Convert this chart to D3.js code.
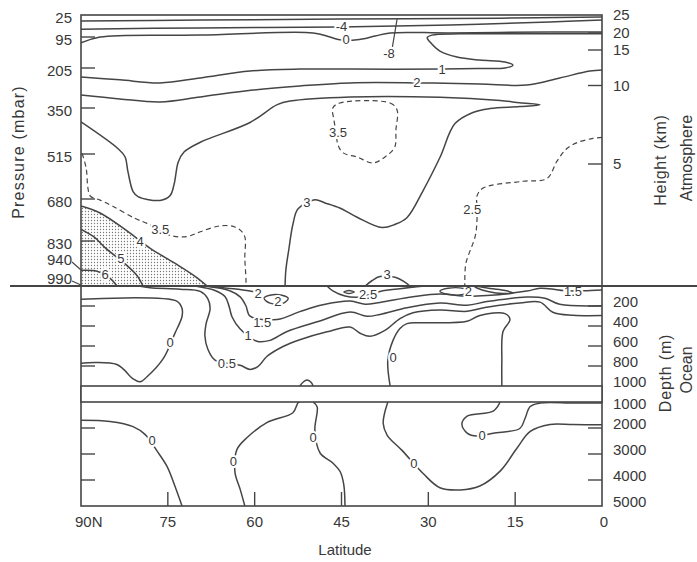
<!DOCTYPE html>
<html>
<head>
<meta charset="utf-8">
<script src="https://cdn.jsdelivr.net/npm/d3@7"></script>
<style>
  body { margin: 0; background: #fff; }
  svg { display: block; }
  text { font-family: "Liberation Sans", Arial, Helvetica, sans-serif; fill: #383838; }
</style>
</head>
<body>
<svg id="chart" width="697" height="562"></svg>
<script>
// ---------------- axis values ----------------
const latTicks = [90, 75, 60, 45, 30, 15, 0];
const pressureLevels = [25, 95, 205, 350, 515, 680, 830, 940, 990];
const pressureKnots = [25, 95, 205, 350, 515, 680, 830, 940, 990, 1000];
const heightTicks = [25, 20, 15, 10, 5];
const heightKnots = [25, 20, 15, 10, 5, 0];
const upperDepthTicks = [200, 400, 600, 800, 1000];
const lowerDepthTicks = [1000, 2000, 3000, 4000, 5000];

// ---------------- atmosphere isolines: [latitude, pressure mbar] ----------------
const atmM8 = [[90,44],[69.4,41],[45.3,38],[17.6,35],[0,31]];
const atmM4 = [[90,70],[69.4,66],[45.3,63],[26.3,57],[9,47],[0,41]];
const atm0 = [[90,116],[86.7,95],[69.4,89],[49.9,82],[47,95],[45.3,105],[42.3,105],[39.2,92],[36.6,82],[26.3,82],[9,79],[0,79]];
const atm1 = [[90,238],[83.3,248],[76.35,259],[69.4,241],[60.8,216],[52.2,209],[43.5,209],[27.6,209],[21.1,207],[16.75,205],[15.4,195],[16.75,184],[21.1,177],[25.05,166],[28,145],[29.7,113],[30.2,97],[29.4,89],[24.5,85],[14.2,85],[0,85]];
const atm2 = [[90,303],[83.3,317],[76.35,328],[69.4,310],[60.3,285],[52.2,270],[43.5,259],[32,259],[21.1,263],[13,267],[7.3,241],[2.1,216],[0,212]];
const atm3 = [[90,400],[83.6,496],[82.4,525],[81.9,579],[81,653],[80.15,671],[76.35,685],[74.6,667],[73.9,624],[73.2,544],[72.2,508],[69.4,473],[60.8,402],[56.1,338],[53.9,325],[43.5,310],[28,311],[17.6,323],[14.2,331],[10.7,338],[14.2,345],[19.35,352],[22.3,366],[25.4,406],[28,528],[30.9,649],[33.7,747],[35.8,771],[38,782],[42.3,745],[45.3,712],[47.85,694],[49.6,683],[52.5,715],[53.4,771],[54.1,866],[54.6,948],[54.75,1000]];
const atm3bump = [[40.9,1000],[39.7,985],[38.35,972],[35.6,975],[34,991],[33.2,1000]];
const atm35loop = [[45.3,332],[36.6,332],[35.4,357],[35.6,429],[35.8,490],[37.5,526],[39.6,548],[42.3,526],[44.7,511],[45.6,483],[45.95,436],[46.3,393],[46.5,350]];
const atm35west = [[89.8,513],[89.1,568],[88.8,640],[88.4,669],[86.7,684],[84.5,706],[80.7,749],[78.6,767],[74.6,810],[71.7,814],[69.4,797],[66,776],[63.4,780],[61.8,809],[61.7,906],[61.5,980],[61.5,1000]];
const atm25east = [[0,455],[1.55,459],[4.15,473],[6.05,495],[7.8,542],[9.5,605],[13.65,615],[20.55,640],[21.6,669],[21.6,705],[21.6,759],[21.9,813],[23.5,924],[23.7,988],[23.7,1000]];
const atm4 = [[90,705],[86.7,730],[82.05,794],[78.1,860],[73.8,924],[70.3,971],[68.2,1000]];
const atm5 = [[90,789],[87.6,818],[85.85,858],[82.05,934],[80.3,969],[79.3,1000]];
const atm6 = [[90,951],[87.2,954],[85,977],[83.8,1000]];
const atmLeader = [[35.4,38],[36.2,130]];

// contour labels: [text, latitude, pressure]
const atmLabels = [
  ["-4",45,63],["-8",36.8,152],["0",44.2,105],["1",27.6,209],["2",32,259],
  ["3.5",45.6,436],["3",51,694],["3.5",76.3,787],["2.5",22.4,717],
  ["4",79.8,832],["5",83.1,904],["6",85.85,965],["3",37.1,966]
];

// ---------------- upper ocean isolines: [latitude, depth m], 0-1000 m ----------------
const ocn0west = [[90,133],[73.4,153],[72.55,225],[72.55,305],[73.8,476],[75.8,727],[78.6,908],[79.8,958],[81,928],[83.8,785],[90,772]];
const ocn05 = [[80,0],[78.1,18],[72.9,32],[69.4,54],[68.1,126],[67.7,227],[68.4,378],[68.6,498],[68.1,630],[66.85,741],[62.5,793],[60.8,834],[59.4,804],[57.9,705],[55.1,605],[52.2,537],[47.5,458],[43.5,411],[41.8,472],[40.1,503],[37.5,444],[34.9,326],[32.65,267],[28,240],[23.3,253],[20.2,215],[14.2,169],[10.7,161],[8.5,262],[5,293],[0,296]];
const ocn1 = [[70.3,0],[66.85,45],[65.1,107],[64.4,208],[63.9,310],[62.5,431],[59.6,553],[57.35,544],[54.4,455],[49.2,358],[43.5,261],[40.6,303],[38.35,284],[33.7,217],[28,170],[23.3,193],[19.9,156],[13,110],[9.85,122],[7.3,183],[0,198]];
const ocn15 = [[68.6,0],[64.3,47],[62.5,109],[61.5,200],[60.8,301],[56.1,334],[52.2,256],[48.2,188],[43.5,151],[40.9,183],[38.35,164],[32.65,108],[28,81],[23.3,104],[19.9,96],[13,51],[10.7,23],[8.1,35],[6.7,46],[3.3,48],[0,40]];
const ocn2 = [[68.6,0],[63.7,28],[60.8,50],[59.9,60]];
const ocn2loop = [[58.4,122],[57.35,92],[55.3,93],[54.2,124],[55.1,173],[57.35,172]];
const ocn25lens = [[47.5,0],[46.5,49],[44.4,100],[42.1,112],[38.35,54],[34.9,27],[30.6,0]];
const ocn25core = [[44.6,60],[43.7,45],[42.8,60],[43.7,75]];
const ocn2lens = [[28,52],[26.6,23],[24,24],[22.8,54],[24,84],[26.6,83]];
const ocnTongue = [[21.8,0],[19.35,25],[16.75,45],[15.4,68],[17.1,75],[19.7,55],[21.6,20],[22.2,0]];
const ocn0mid = [[36.6,1000],[37,744],[36.1,544],[34.9,425],[33.7,376],[30.9,368],[23.3,352],[21.1,294],[16.75,276],[15.9,336],[17.1,455],[17.3,752],[17.3,1000]];
const ocn0bump = [[52.2,1000],[51.6,960],[51,940],[50.3,960],[49.9,1000]];

const ocnLabels = [
  ["0",74.6,566],["0.5",64.8,772],["1",61.15,493],["1.5",58.7,364],["2",59.4,70],
  ["2",56,150],["2.5",40.4,85],["2",23.1,55],["1.5",5,56],["0",36.1,714]
];

// ---------------- deep ocean isolines: [latitude, depth m], 1000-5000 m ----------------
const deep0west = [[90,1700],[85,1746],[81,1946],[78.9,2256],[76.9,2873],[75.1,3492],[73.8,4225],[72.55,5000]];
const deep0a = [[61.7,5000],[62.5,4361],[63.4,3708],[63.05,2823],[61.3,2365],[57.9,1792],[53.4,1411],[52.5,1027],[52.2,1000]];
const deep0b = [[49.9,1000],[49.2,1192],[49.6,2077],[48.7,2961],[46.5,3346],[45.2,3692],[44.6,4192],[44.4,5000]];
const deep0mid = [[37,1000],[37.8,1819],[37.1,2281],[34.55,2861],[30.9,3750],[28,4296],[24.5,4381],[21.1,4231],[17.6,3658],[14.7,2781],[12.4,2131],[9,1862],[5,1869],[0,1877]];
const deep0tongue = [[17.6,1000],[18.8,1354],[23.3,1542],[24.2,1850],[23.3,2196],[21.6,2311],[18.8,2200],[14.2,2019],[13.3,1635],[12.4,1173],[10.7,1040],[5,1040],[0,1040]];

const deepLabels = [
  ["0",77.7,2490],["0",63.7,3285],["0",49.9,2380],["0",32.5,3370],["0",20.7,2290]
];

// ---------------- scales ----------------
const left = 81, right = 602;
const x = d3.scaleLinear().domain([90, 0]).range([left, right]);
const yP = d3.scaleLinear().domain(pressureKnots).range([15, 37, 68, 108, 154, 199, 241, 267, 282, 286]);
const yH = d3.scaleLinear().domain(heightKnots).range([15, 33, 50, 85.5, 164, 286]);
const yU = d3.scaleLinear().domain([0, 1000]).range([286, 386]);
const yL = d3.scaleLinear().domain([1000, 5000]).range([402, 506]);

const ink = "#454545";
const svg = d3.select("#chart");

const defs = svg.append("defs");
const pat = defs.append("pattern").attr("id", "dots")
  .attr("width", 3).attr("height", 3).attr("patternUnits", "userSpaceOnUse");
pat.append("rect").attr("width", 3).attr("height", 3).attr("fill", "#fff");
pat.append("circle").attr("cx", 1.5).attr("cy", 1.5).attr("r", 0.65).attr("fill", "#777");

function clip(id, y0, y1) {
  defs.append("clipPath").attr("id", id).append("rect")
    .attr("x", left).attr("y", y0).attr("width", right - left).attr("height", y1 - y0);
}
clip("clipAtm", 15, yP(1000));
clip("clipUp", yU(0), yU(1000));
clip("clipLow", yL(1000), yL(5000));

const open = d3.curveCatmullRom.alpha(0.5);
const closed = d3.curveCatmullRomClosed.alpha(0.5);
const gen = (ys, curve) => d3.line().x(d => x(d[0])).y(d => ys(d[1])).curve(curve);

// ---------------- atmosphere ----------------
const gAtm = svg.append("g").attr("clip-path", "url(#clipAtm)");

// stippled area below the 4-degree isoline
gAtm.append("path")
  .attr("d", gen(yP, open)(atm4) + `L${x(90)},${yP(1000)}Z`)
  .attr("fill", "url(#dots)");

const atmSolid = [atmM8, atmM4, atm0, atm1, atm2, atm3, atm3bump, atm4, atm5, atm6];
const atmDashed = [atm35west, atm25east];

atmSolid.forEach(pts => gAtm.append("path").attr("d", gen(yP, open)(pts))
  .attr("fill", "none").attr("stroke", ink).attr("stroke-width", 1.5));
atmDashed.forEach(pts => gAtm.append("path").attr("d", gen(yP, open)(pts))
  .attr("fill", "none").attr("stroke", ink).attr("stroke-width", 1.2).attr("stroke-dasharray", "5,3.5"));
gAtm.append("path").attr("d", gen(yP, closed)(atm35loop))
  .attr("fill", "none").attr("stroke", ink).attr("stroke-width", 1.2).attr("stroke-dasharray", "5,3.5");
gAtm.append("path").attr("d", gen(yP, d3.curveLinear)(atmLeader))
  .attr("fill", "none").attr("stroke", ink).attr("stroke-width", 1.2);

// ---------------- upper ocean ----------------
const gUp = svg.append("g").attr("clip-path", "url(#clipUp)");
[ocn0west, ocn05, ocn1, ocn15, ocn2, ocn25lens, ocnTongue, ocn0mid, ocn0bump].forEach(pts =>
  gUp.append("path").attr("d", gen(yU, open)(pts))
    .attr("fill", "none").attr("stroke", ink).attr("stroke-width", 1.5));
[ocn2loop, ocn25core, ocn2lens].forEach(pts =>
  gUp.append("path").attr("d", gen(yU, closed)(pts))
    .attr("fill", "none").attr("stroke", ink).attr("stroke-width", 1.4));

// ---------------- deep ocean ----------------
const gLow = svg.append("g").attr("clip-path", "url(#clipLow)");
[deep0west, deep0a, deep0b, deep0mid, deep0tongue].forEach(pts =>
  gLow.append("path").attr("d", gen(yL, open)(pts))
    .attr("fill", "none").attr("stroke", ink).attr("stroke-width", 1.5));

// ---------------- isoline labels (white knock-out behind each) ----------------
function labels(list, ys) {
  const g = svg.append("g").attr("font-size", 13).attr("text-anchor", "middle");
  g.selectAll("text.halo").data(list).join("text").attr("class", "halo")
    .attr("x", d => x(d[1])).attr("y", d => ys(d[2])).attr("dy", "0.35em")
    .style("fill", "#fff").attr("stroke", "#fff").attr("stroke-width", 4)
    .text(d => d[0]);
  g.selectAll("text.lab").data(list).join("text").attr("class", "lab")
    .attr("x", d => x(d[1])).attr("y", d => ys(d[2])).attr("dy", "0.35em")
    .text(d => d[0]);
}
labels(atmLabels, yP);
labels(ocnLabels, yU);
labels(deepLabels, yL);

// ---------------- frame ----------------
const frame = svg.append("g").attr("stroke", ink).attr("fill", "none");
frame.append("rect").attr("x", left).attr("y", 15).attr("width", right - left).attr("height", yL(5000) - 15)
  .attr("stroke-width", 1.6);
// the gap between the 1000 m rows
frame.append("rect").attr("x", left).attr("y", yU(1000)).attr("width", right - left)
  .attr("height", yL(1000) - yU(1000)).attr("fill", "#fff").attr("stroke-width", 1.6);
// sea / land surface
frame.append("line").attr("x1", 10).attr("x2", 697).attr("y1", yP(1000)).attr("y2", yP(1000))
  .attr("stroke-width", 2.2);

// ---------------- ticks ----------------
const tk = svg.append("g").attr("stroke", ink).attr("stroke-width", 1.4);
const tlen = 14;
latTicks.filter(v => v !== 90 && v !== 0).forEach(v =>
  tk.append("line").attr("x1", x(v)).attr("x2", x(v)).attr("y1", yL(5000)).attr("y2", yL(5000) - tlen));
pressureLevels.filter(v => v > 25 && v < 900).forEach(v =>
  tk.append("line").attr("x1", left).attr("x2", left + tlen).attr("y1", yP(v)).attr("y2", yP(v)));
heightTicks.filter(v => v < 25).forEach(v =>
  tk.append("line").attr("x1", right - tlen).attr("x2", right).attr("y1", yH(v)).attr("y2", yH(v)));
upperDepthTicks.filter(v => v < 1000).forEach(v => {
  tk.append("line").attr("x1", left).attr("x2", left + tlen).attr("y1", yU(v)).attr("y2", yU(v));
  tk.append("line").attr("x1", right - tlen).attr("x2", right).attr("y1", yU(v)).attr("y2", yU(v));
});
lowerDepthTicks.filter(v => v > 1000 && v < 5000).forEach(v => {
  tk.append("line").attr("x1", left).attr("x2", left + tlen).attr("y1", yL(v)).attr("y2", yL(v));
  tk.append("line").attr("x1", right - tlen).attr("x2", right).attr("y1", yL(v)).attr("y2", yL(v));
});

// ---------------- tick labels ----------------
const fs = 15;
const tl = svg.append("g").attr("font-size", fs);
// pressure levels; the two lowest are lifted with a leader to the axis
const lifted = { 940: -7, 990: -3 };
pressureLevels.forEach(v => {
  const off = lifted[v] !== undefined ? lifted[v] : 3;
  tl.append("text").attr("x", 72).attr("y", yP(v) + off).attr("dy", "0.35em")
    .attr("text-anchor", "end").text(v);
  if (lifted[v] !== undefined) {
    tk.append("line").attr("x1", 72).attr("y1", yP(v) + off + 2)
      .attr("x2", left).attr("y2", yP(v) + 3).attr("stroke-width", 1.1);
  }
});
heightTicks.forEach(v =>
  tl.append("text").attr("x", 613).attr("y", yH(v)).attr("dy", "0.35em").text(v));
upperDepthTicks.forEach(v =>
  tl.append("text").attr("x", 613).attr("y", yU(v) - 4).attr("dy", "0.35em").text(v));
lowerDepthTicks.forEach(v =>
  tl.append("text").attr("x", 613).attr("y", v === 1000 ? yL(v) + 2 : yL(v) - 4).attr("dy", "0.35em").text(v));
latTicks.forEach(v => {
  const t = tl.append("text").attr("y", 527);
  if (v === 90) t.attr("x", x(v) - 6).attr("text-anchor", "start").text("90N");
  else t.attr("x", x(v) + (v === 0 ? 2 : 0)).attr("text-anchor", "middle").text(v);
});

// ---------------- axis titles ----------------
const title = (txt, cx, cy, extra) => {
  const t = svg.append("text").attr("transform", `translate(${cx},${cy}) rotate(-90)`)
    .attr("text-anchor", "middle").attr("dy", "0.35em").attr("font-size", 16).text(txt);
  if (extra) t.attr("letter-spacing", extra);
};
title("Pressure (mbar)", 18, 152, 1.2);
title("Height (km)", 660, 160, 0.8);
title("Atmosphere", 686, 158);
title("Depth (m)", 665, 373, 0.8);
title("Ocean", 686, 370);
svg.append("text").attr("x", 345).attr("y", 550).attr("dy", "0.35em")
  .attr("text-anchor", "middle").attr("font-size", 15).text("Latitude");
</script>
</body>
</html>
